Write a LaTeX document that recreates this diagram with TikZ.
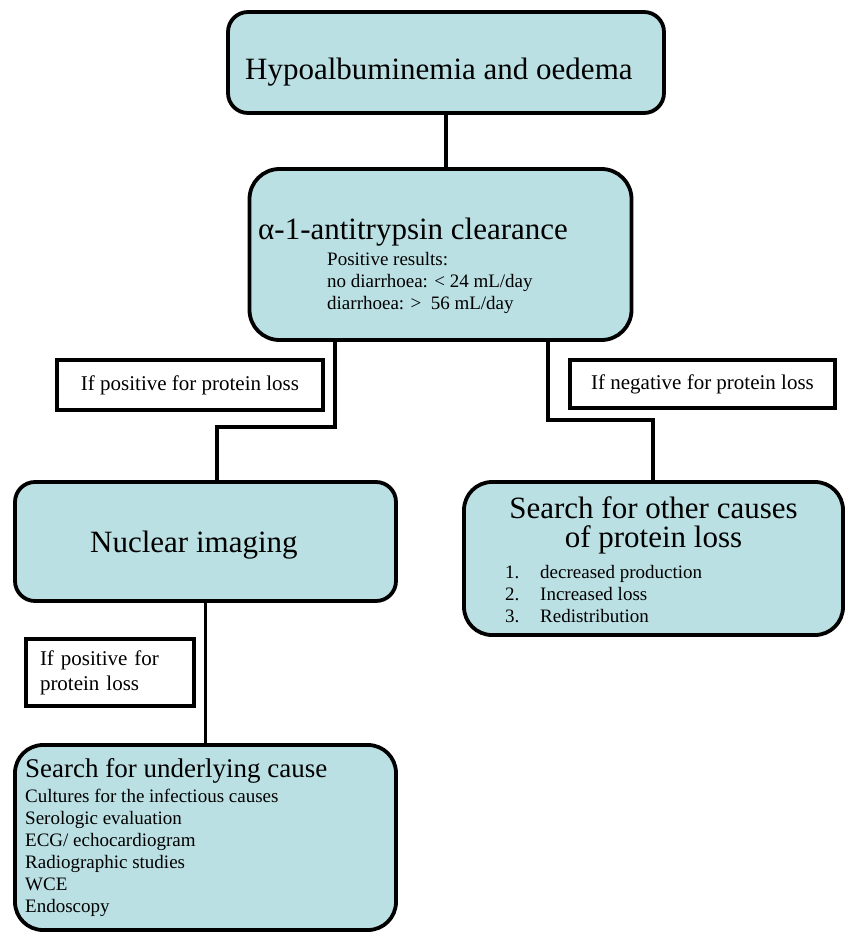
\documentclass[tikz,border=0pt]{standalone}
\usepackage{fontspec}
\setmainfont{Liberation Serif}
\definecolor{boxfill}{RGB}{187,224,227}

\begin{document}
\begin{tikzpicture}[x=1pt,y=-1pt,
    stage/.style={draw,line width=3.8pt,fill=boxfill,rounded corners=24pt,inner sep=0pt},
    answer/.style={draw,line width=3.8pt,fill=white,inner sep=0pt,font=\fontsize{21}{25}\selectfont},
    big/.style={inner sep=0pt,font=\fontsize{31}{29}\selectfont},
    small/.style={inner sep=0pt,align=left,font=\fontsize{19}{22}\selectfont},
    link/.style={line width=3.8pt}]
    \useasboundingbox (0,0) rectangle (848,933);

    % boxes
    \node[stage,minimum width=436pt,minimum height=101pt,rounded corners=20pt] (hypo) at (446,62.5) {};
    \node[stage,minimum width=382pt,minimum height=171pt,rounded corners=30pt] (alpha) at (440.5,254.5) {};
    \node[stage,minimum width=381pt,minimum height=119pt,rounded corners=20pt] (nuc) at (205.5,541.5) {};
    \node[stage,minimum width=379pt,minimum height=153pt,rounded corners=28pt] (other) at (653.5,558.5) {};
    \node[stage,minimum width=381pt,minimum height=185pt,rounded corners=28pt] (under) at (205.5,837.5) {};

    % labels on the branches
    \node[answer,minimum width=266pt,minimum height=50pt] (posL) at (190,385) {If positive for protein loss};
    \node[answer,minimum width=265pt,minimum height=48pt] (negR) at (702.5,384) {If negative for protein loss};
    \node[answer,minimum width=168pt,minimum height=67pt,align=left,text width=140pt] (pos2) at (110,672.5) {If positive for\\protein loss};

    % texts in the boxes (base = last line)
    \node[big,anchor=base west] (hypotext) at (245,80) {Hypoalbuminemia and oedema};
    \node[big,anchor=base west] (alphatext) at (258,240) {α-1-antitrypsin clearance};
    \node[small,anchor=base west] (alphanote) at (327,309) {Positive results:\\no diarrhoea: < 24 mL/day\\diarrhoea: >\ \ 56 mL/day};
    \node[big,anchor=base west] (nuctext) at (90,552) {Nuclear imaging};
    \node[big,align=center,anchor=base] (othertext) at (653.5,547) {Search for other causes\\of protein loss};
    \node[small,anchor=base west] (otherlist) at (505,622) {\makebox[35pt][l]{1.}decreased production\\\makebox[35pt][l]{2.}Increased loss\\\makebox[35pt][l]{3.}Redistribution};
    \node[inner sep=0pt,font=\fontsize{27}{30}\selectfont,anchor=base west] (undertext) at (25,777) {Search for underlying cause};
    \node[small,anchor=base west] (underlist) at (25,912) {Cultures for the infectious causes\\Serologic evaluation\\ECG/ echocardiogram\\Radiographic studies\\WCE\\Endoscopy};

    % connectors
    \coordinate (splitL) at (335,427);
    \coordinate (dropL) at (217,427);
    \coordinate (splitR) at (548,420);
    \coordinate (dropR) at (653,420);
    \draw[link] (hypo.south) -- (hypo.south |- alpha.north);
    \draw[link] (splitL |- alpha.south) -- (splitL) -- (dropL) -- (dropL |- nuc.north);
    \draw[link] (splitR |- alpha.south) -- (splitR) -- (dropR) -- (dropR |- other.north);
    \draw[link] (nuc.south) -- (under.north);
\end{tikzpicture}
\end{document}
